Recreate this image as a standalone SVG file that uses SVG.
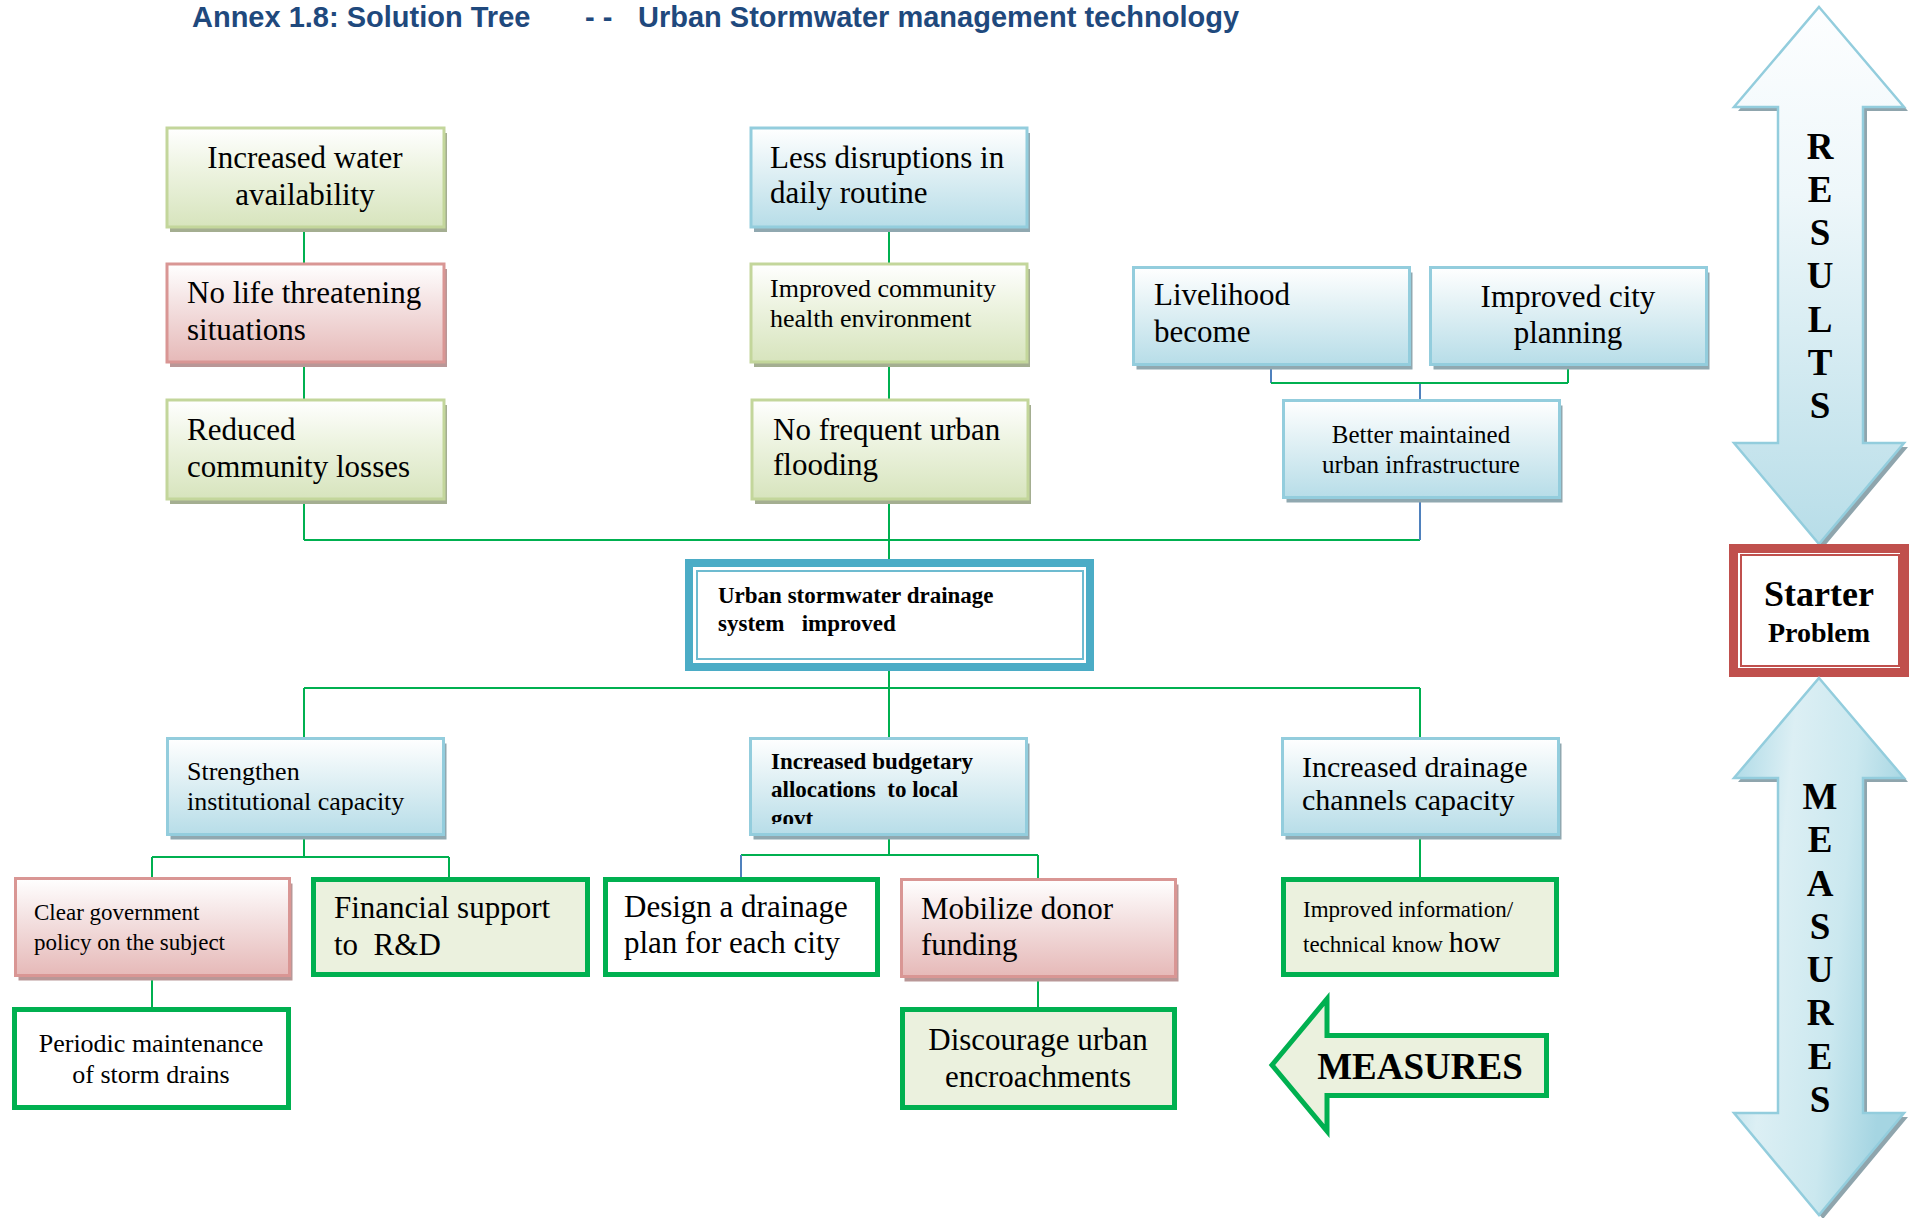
<svg xmlns="http://www.w3.org/2000/svg" width="1910" height="1218" viewBox="0 0 1910 1218">
<defs>
<linearGradient id="gGreen" x1="0" y1="0" x2="0" y2="1"><stop offset="0" stop-color="#FFFFFF"/><stop offset="0.4" stop-color="#EEF4E2"/><stop offset="1" stop-color="#D7E4BD"/></linearGradient>
<linearGradient id="gPink" x1="0" y1="0" x2="0" y2="1"><stop offset="0" stop-color="#FFFFFF"/><stop offset="0.4" stop-color="#F4E2E2"/><stop offset="1" stop-color="#E6B9B8"/></linearGradient>
<linearGradient id="gBlue" x1="0" y1="0" x2="0" y2="1"><stop offset="0" stop-color="#FFFFFF"/><stop offset="0.4" stop-color="#E2F1F5"/><stop offset="1" stop-color="#B7DDE8"/></linearGradient>
<linearGradient id="gRes" x1="0" y1="0" x2="0" y2="1"><stop offset="0" stop-color="#FDFEFF"/><stop offset="0.35" stop-color="#EEF7FA"/><stop offset="1" stop-color="#B7DDE8"/></linearGradient>
<linearGradient id="gMeas" x1="0" y1="0" x2="1" y2="0.3"><stop offset="0" stop-color="#A9D8E5"/><stop offset="0.35" stop-color="#DCEFF4"/><stop offset="0.7" stop-color="#CBE8EF"/><stop offset="1" stop-color="#A5D5E2"/></linearGradient>
<clipPath id="clipBud"><rect x="749" y="737" width="279" height="87"/></clipPath>
</defs>
<style>
.t{font-family:"Liberation Serif","Times New Roman",serif;fill:#000000}
.b{font-weight:bold}
.title{font-family:"Liberation Sans",Arial,sans-serif;font-weight:bold;font-size:29px;fill:#1F497D}
.s31{font-size:31px}.s30{font-size:30px}.s26{font-size:26px}.s25{font-size:25px}.s23{font-size:23px}
.mid{text-anchor:middle}
.shg{fill:#A4AE91}.shp{fill:#B99797}.shb{fill:#90A8B0}
.bxg{fill:url(#gGreen);stroke:#C3D69B;stroke-width:3}
.bxp{fill:url(#gPink);stroke:#D99694;stroke-width:3}
.bxb{fill:url(#gBlue);stroke:#93CDDD;stroke-width:3}
.bxm{fill:#EBF1DE;stroke:#00B050;stroke-width:5}
.bxw{fill:#FFFFFF;stroke:#00B050;stroke-width:5}
.c{fill:none;stroke:#00B050;stroke-width:2}
.cb{fill:none;stroke:#4F81BD;stroke-width:2}
.arr{stroke:#93CDDD;stroke-width:2.5}
.ash{fill:#8FA5AD}
.big{font-size:37px;font-weight:bold;text-anchor:middle}
</style>
<rect width="1910" height="1218" fill="#FFFFFF"/>

<g id="title">
<text class="title" x="192" y="27">Annex 1.8: Solution Tree</text>
<text class="title" x="585" y="27">- -</text>
<text class="title" x="638" y="27">Urban Stormwater management technology</text>
</g>

<g id="connectors">
<path class="c" d="M304 228V264M304 362V400M304 499V540M889 228V264M889 362V400M889 499V563M304 540H1420"/>
<path class="cb" d="M1420 499V540M1420 383V400M1271 366V383"/>
<path class="c" d="M1271 383H1568M1568 366V383"/>
<path class="c" d="M889 667V737M304 688H1420M304 688V737M1420 688V737"/>
<path class="c" d="M304 836V857M152 857H449M152 857V878M449 857V877"/>
<path class="c" d="M889 836V855M741 855H1038M1038 855V879"/>
<path class="cb" d="M741 855V877"/>
<path class="c" d="M1420 836V877M152 977V1007M1038 978V1007"/>
</g>

<g id="n-water">
<rect class="shg" x="170" y="133" width="277" height="99"/>
<rect class="bxg" x="167" y="128" width="277" height="99"/>
<text class="t s31 mid" x="305" y="168">Increased water</text>
<text class="t s31 mid" x="305" y="205">availability</text>
</g>
<g id="n-life">
<rect class="shp" x="170" y="269" width="277" height="98"/>
<rect class="bxp" x="167" y="264" width="277" height="98"/>
<text class="t s31" x="187" y="303">No life threatening</text>
<text class="t s31" x="187" y="340">situations</text>
</g>
<g id="n-losses">
<rect class="shg" x="170" y="405" width="277" height="99"/>
<rect class="bxg" x="167" y="400" width="277" height="99"/>
<text class="t s31" x="187" y="440">Reduced</text>
<text class="t s31" x="187" y="477">community losses</text>
</g>

<g id="n-disruptions">
<rect class="shb" x="754" y="133" width="276" height="99"/>
<rect class="bxb" x="751" y="128" width="276" height="99"/>
<text class="t s31" x="770" y="168">Less disruptions in</text>
<text class="t s31" x="770" y="203">daily routine</text>
</g>
<g id="n-health">
<rect class="shg" x="754" y="269" width="276" height="98"/>
<rect class="bxg" x="751" y="264" width="276" height="98"/>
<text class="t s26" x="770" y="297">Improved community</text>
<text class="t s26" x="770" y="327">health environment</text>
</g>
<g id="n-flooding">
<rect class="shg" x="755" y="405" width="276" height="99"/>
<rect class="bxg" x="752" y="400" width="276" height="99"/>
<text class="t s31" x="773" y="440">No frequent urban</text>
<text class="t s31" x="773" y="475">flooding</text>
</g>

<g id="n-livelihood">
<rect class="shb" x="1136.5" y="272.5" width="276" height="97"/>
<rect class="bxb" x="1133.5" y="267.5" width="276" height="97"/>
<text class="t s31" x="1154" y="305">Livelihood</text>
<text class="t s31" x="1154" y="342">become</text>
</g>
<g id="n-cityplanning">
<rect class="shb" x="1433.5" y="272.5" width="276" height="97"/>
<rect class="bxb" x="1430.5" y="267.5" width="276" height="97"/>
<text class="t s31 mid" x="1568" y="307">Improved city</text>
<text class="t s31 mid" x="1568" y="343">planning</text>
</g>
<g id="n-infrastructure">
<rect class="shb" x="1286.5" y="405.5" width="276" height="97"/>
<rect class="bxb" x="1283.5" y="400.5" width="276" height="97"/>
<text class="t s25 mid" x="1421" y="443">Better maintained</text>
<text class="t s25 mid" x="1421" y="473">urban infrastructure</text>
</g>

<g id="n-core">
<rect x="689" y="563" width="401" height="104" fill="#FFFFFF" stroke="#4BACC6" stroke-width="8"/>
<rect x="697" y="571" width="386" height="88" fill="none" stroke="#6DBBD0" stroke-width="2"/>
<text class="t b s23" x="718" y="603">Urban stormwater drainage</text>
<text class="t b s23" x="718" y="631" xml:space="preserve">system   improved</text>
</g>

<g id="n-strengthen">
<rect class="shb" x="170.5" y="743.5" width="276" height="96"/>
<rect class="bxb" x="167.5" y="738.5" width="276" height="96"/>
<text class="t s26" x="187" y="780">Strengthen</text>
<text class="t s26" x="187" y="810">institutional capacity</text>
</g>
<g id="n-budget">
<rect class="shb" x="753.5" y="743.5" width="276" height="96"/>
<rect class="bxb" x="750.5" y="738.5" width="276" height="96"/>
<g clip-path="url(#clipBud)">
<text class="t b s23" x="771" y="769">Increased budgetary</text>
<text class="t b s23" x="771" y="797" xml:space="preserve">allocations  to local</text>
<text class="t b s23" x="771" y="826">govt</text>
</g>
</g>
<g id="n-channels">
<rect class="shb" x="1285.5" y="743.5" width="276" height="96"/>
<rect class="bxb" x="1282.5" y="738.5" width="276" height="96"/>
<text class="t s30" x="1302" y="777">Increased drainage</text>
<text class="t s30" x="1302" y="810">channels capacity</text>
</g>

<g id="n-policy">
<rect class="shp" x="18.5" y="883.5" width="274" height="97"/>
<rect class="bxp" x="15.5" y="878.5" width="274" height="97"/>
<text class="t s23" x="34" y="920">Clear government</text>
<text class="t s23" x="34" y="950">policy on the subject</text>
</g>
<g id="n-financial">
<rect class="bxm" x="313.5" y="879.5" width="274" height="95"/>
<text class="t s31" x="334" y="918">Financial support</text>
<text class="t s31" x="334" y="955" xml:space="preserve">to  R&amp;D</text>
</g>
<g id="n-design">
<rect class="bxw" x="605.5" y="879.5" width="272" height="95"/>
<text class="t s31" x="624" y="917">Design a drainage</text>
<text class="t s31" x="624" y="953">plan for each city</text>
</g>
<g id="n-donor">
<rect class="shp" x="904.5" y="884.5" width="274" height="97"/>
<rect class="bxp" x="901.5" y="879.5" width="274" height="97"/>
<text class="t s31" x="921" y="919">Mobilize donor</text>
<text class="t s31" x="921" y="955">funding</text>
</g>
<g id="n-knowhow">
<rect class="bxm" x="1283.5" y="879.5" width="273" height="95"/>
<text class="t s23" x="1303" y="917">Improved information/</text>
<text class="t s23" x="1303" y="952" xml:space="preserve">technical know <tspan class="s30">how</tspan></text>
</g>

<g id="n-maintenance">
<rect class="bxw" x="14.5" y="1009.5" width="274" height="98"/>
<text class="t s26 mid" x="151" y="1052">Periodic maintenance</text>
<text class="t s26 mid" x="151" y="1083">of storm drains</text>
</g>
<g id="n-encroach">
<rect class="bxm" x="902.5" y="1009.5" width="272" height="98"/>
<text class="t s31 mid" x="1038" y="1050">Discourage urban</text>
<text class="t s31 mid" x="1038" y="1087">encroachments</text>
</g>

<g id="n-measures-arrow">
<polygon points="1272,1065 1327,999 1327,1035.5 1546.5,1035.5 1546.5,1095.5 1327,1095.5 1327,1131" fill="#EBF1DE" stroke="#00B050" stroke-width="5" stroke-linejoin="miter"/>
<text class="t b" style="font-size:37px" x="1420" y="1079" text-anchor="middle">MEASURES</text>
</g>

<g id="n-results">
<polygon class="ash" points="1823,11 1908,111 1867,111 1867,447 1908,447 1823,548 1738,447 1782,447 1782,111 1738,111"/>
<polygon class="arr" fill="url(#gRes)" points="1819,7 1904,107 1863,107 1863,443 1904,443 1819,544 1734,443 1778,443 1778,107 1734,107"/>
<text class="t big" x="1820" y="159">R</text>
<text class="t big" x="1820" y="202">E</text>
<text class="t big" x="1820" y="245">S</text>
<text class="t big" x="1820" y="288">U</text>
<text class="t big" x="1820" y="332">L</text>
<text class="t big" x="1820" y="375">T</text>
<text class="t big" x="1820" y="418">S</text>
</g>

<g id="n-starter">
<rect x="1733.5" y="548.5" width="171" height="124" fill="#FFFFFF" stroke="#C0504D" stroke-width="9"/>
<rect x="1741" y="555" width="158" height="111" fill="none" stroke="#C0504D" stroke-width="2"/>
<text class="t b mid" style="font-size:36px" x="1819" y="606">Starter</text>
<text class="t b mid" style="font-size:28px" x="1819" y="642">Problem</text>
</g>

<g id="n-measures">
<polygon class="ash" points="1823,682 1908,782 1867,782 1867,1117 1908,1117 1823,1219 1738,1117 1782,1117 1782,782 1738,782"/>
<polygon class="arr" fill="url(#gMeas)" points="1819,678 1904,778 1863,778 1863,1113 1904,1113 1819,1215 1734,1113 1778,1113 1778,778 1734,778"/>
<text class="t big" x="1820" y="809">M</text>
<text class="t big" x="1820" y="852">E</text>
<text class="t big" x="1820" y="896">A</text>
<text class="t big" x="1820" y="939">S</text>
<text class="t big" x="1820" y="982">U</text>
<text class="t big" x="1820" y="1025">R</text>
<text class="t big" x="1820" y="1069">E</text>
<text class="t big" x="1820" y="1112">S</text>
</g>
</svg>
